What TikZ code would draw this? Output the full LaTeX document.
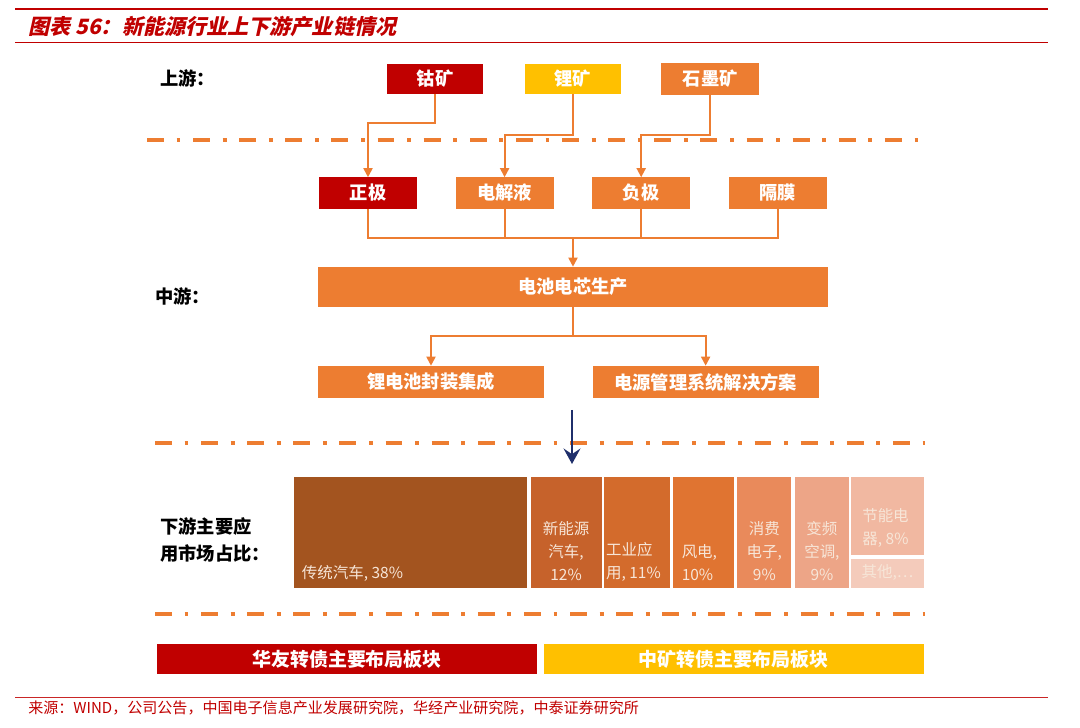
\documentclass[tikz,border=0pt]{standalone}
\usepackage{fontspec}
\setmainfont{Noto Sans CJK SC}
\newfontfamily\titlefont{Noto Sans CJK SC}[FakeSlant=0.22,BoldFeatures={FakeSlant=0.22}]
\usetikzlibrary{arrows.meta,positioning}
\definecolor{zred}{HTML}{C00000}
\definecolor{zyel}{HTML}{FFC000}
\definecolor{orng}{HTML}{ED7D31}
\definecolor{navy}{HTML}{1F2F6B}
\definecolor{cream}{HTML}{F7E6D8}
\definecolor{sA}{HTML}{A3541F}
\definecolor{sB}{HTML}{C6622B}
\definecolor{sC}{HTML}{D36B2C}
\definecolor{sD}{HTML}{E07431}
\definecolor{sE}{HTML}{E98A5B}
\definecolor{sF}{HTML}{EDA587}
\definecolor{sG}{HTML}{F1B8A1}
\definecolor{sH}{HTML}{F4CBBB}

\begin{document}
\begin{tikzpicture}[x=0.025cm,y=-0.025cm,
  node distance=0.95cm,
  chip/.style={draw=none,inner sep=0pt,font=\fontsize{13}{15}\selectfont\bfseries,text=white},
  ore/.style={chip,minimum width=2.4cm,minimum height=0.75cm},
  comp/.style={chip,fill=orng,minimum width=2.45cm,minimum height=0.775cm},
  flow/.style={orng,line width=1.3pt,-{Triangle[length=6.5pt,width=6.5pt]}},
  wire/.style={orng,line width=1.3pt},
  tierline/.style={orng,line width=2.8pt,dash pattern=on 12pt off 9pt on 2.8pt off 9pt},
  tier/.style={font=\fontsize{13}{19}\selectfont\bfseries,anchor=west,align=left,inner sep=0pt},
  share/.style={minimum height=2.775cm,inner sep=0pt},
  celltext/.style={font=\fontsize{11}{16.4}\selectfont,text=cream,inner sep=0pt},
  plate/.style={chip,minimum width=9.5cm,minimum height=0.75cm,font=\fontsize{13.5}{16}\selectfont\bfseries}]
  \useasboundingbox (0,0) rectangle (1080,728);
  % header and footer rules
  \draw[zred,line width=1.8pt] (15,9) -- (1048,9);
  \draw[zred,line width=0.7pt] (15,42) -- (1048,42);
  \draw[zred!85,line width=0.7pt] (15,697) -- (1048,697);
  \node[anchor=west,text=zred,inner sep=0pt,font=\titlefont\fontsize{15}{17}\selectfont\bfseries] (title) at (28,27) {图表 56：新能源行业上下游产业链情况};
  \node[anchor=west,text=zred,inner sep=0pt,font=\fontsize{10.7}{12}\selectfont] (src) at (28,708) {来源：WIND，公司公告，中国电子信息产业发展研究院，华经产业研究院，中泰证券研究所};
  % tiers
  \node[tier] (upper) at (160,78) {上游：};
  \node[tier] (middle) at (155,296) {中游：};
  \node[tier] (lower) at (160,540) {下游主要应\\用市场占比：};
  \draw[tierline] (147,140) -- (920,140);
  \draw[tierline] (155,443) -- (925,443);
  \draw[tierline] (155,614) -- (925,614);
  % upstream ores
  \node[ore,fill=zred] (cobalt) at (435,79) {钴矿};
  \node[ore,fill=zyel,right=1.025cm of cobalt] (lithium) {锂矿};
  \node[ore,fill=orng,right=1cm of lithium,minimum width=2.45cm,minimum height=0.8cm] (graphite) {石墨矿};
  % materials
  \node[comp,fill=zred] (cathode) at (368,193) {正极};
  \node[comp,right=of cathode] (electrolyte) {电解液};
  \node[comp,right=of electrolyte] (anode) {负极};
  \node[comp,right=of anode] (separator) {隔膜};
  \draw[flow] (cobalt.south) -- ++(0,29) -| (cathode.north);
  \draw[flow] (lithium.south) -- ++(0,41) -| (electrolyte.north);
  \draw[flow] (graphite.south) -- ++(0,40) -| (anode.north);
  % midstream
  \node[chip,fill=orng,minimum width=12.75cm,minimum height=1cm] (cell) at (573,287) {电池电芯生产};
  \node[chip,fill=orng,minimum width=5.65cm,minimum height=0.8cm] (pack) at (431,382) {锂电池封装集成};
  \node[chip,fill=orng,minimum width=5.65cm,minimum height=0.8cm,right=1.2cm of pack] (bms) {电源管理系统解决方案};
  \draw[wire] (cathode.south) -- ++(0,29) coordinate (bus) -| (separator.south);
  \draw[wire] (electrolyte.south) -- (electrolyte.south |- bus);
  \draw[wire] (anode.south) -- (anode.south |- bus);
  \draw[flow] (cell.north |- bus) -- (cell.north);
  \draw[flow] (cell.south) -- ++(0,29) -| (pack.north);
  \draw[flow] (cell.south) -- ++(0,29) -| (bms.north);
  \coordinate (drop) at (572,410);
  \coordinate (sink) at (572,464);
  \draw[navy,line width=2pt,-{Stealth[length=11pt,width=12pt,inset=4pt]}] (drop) -- (sink);
  % downstream market shares
  \node[share,fill=sA,minimum width=5.825cm] (trad) at (410.5,532.5) {};
  \node[share,fill=sB,minimum width=1.775cm,right=0.075cm of trad] (nev) {};
  \node[share,fill=sC,minimum width=1.65cm,right=0.05cm of nev] (ind) {};
  \node[share,fill=sD,minimum width=1.525cm,right=0.05cm of ind] (wind) {};
  \node[share,fill=sE,minimum width=1.35cm,right=0.075cm of wind] (cons) {};
  \node[share,fill=sF,minimum width=1.35cm,right=0.075cm of cons] (ac) {};
  \node[share,fill=sG,minimum width=1.8cm,minimum height=1.95cm,right=0.05cm of ac.north east,anchor=north west] (save) {};
  \node[share,fill=sH,minimum width=1.8cm,minimum height=0.725cm,below=0.075cm of save] (other) {};
  \node[celltext,anchor=south west] at ([shift={(8,-7)}]trad.south west) {传统汽车, 38\%};
  \node[celltext,anchor=south,align=center] at ([shift={(0,-7)}]nev.south) {新能源\\汽车,\\12\%};
  \node[celltext,anchor=south west,align=left] at ([shift={(2,-7)}]ind.south west) {工业应\\用, 11\%};
  \node[celltext,anchor=south west,align=left] at ([shift={(9,-7)}]wind.south west) {风电,\\10\%};
  \node[celltext,anchor=south,align=center] at ([shift={(0,-7)}]cons.south) {消费\\电子,\\9\%};
  \node[celltext,anchor=south,align=center] at ([shift={(0,-7)}]ac.south) {变频\\空调,\\9\%};
  \node[celltext,anchor=south,align=center] at ([shift={(-2,-8)}]save.south) {节能电\\器, 8\%};
  \node[celltext,anchor=south] at ([shift={(0,-7)}]other.south) {其他,…};
  % convertible bond sectors
  \node[plate,fill=zred] (huayou) at (347,659) {华友转债主要布局板块};
  \node[plate,fill=zyel,right=0.15cm of huayou] (zhongkuang) {中矿转债主要布局板块};
\end{tikzpicture}
\end{document}
